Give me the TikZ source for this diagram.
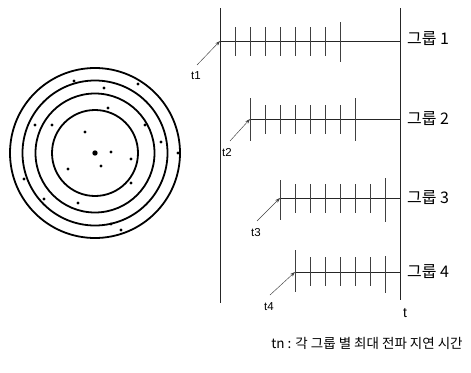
\documentclass[tikz,border=0pt]{standalone}
\usepackage{fontspec}
\setmainfont{Liberation Sans}
\newfontfamily\kor{Noto Sans CJK KR}
\usetikzlibrary{arrows.meta}

\tikzset{
  ring/.style={line width=1.8pt},
  tline/.style={line width=0.6pt, black!85},
  pulse/.style={line width=0.6pt, black!75},
  lag/.style={line width=0.45pt, black!75, -{Stealth[length=5pt, width=3.5pt]}},
  tlabel/.style={font=\fontsize{11.5}{11.5}\selectfont, inner sep=0pt},
  glabel/.style={font=\kor\fontsize{16}{16}\selectfont, anchor=west, inner sep=0pt},
}

\begin{document}
\begin{tikzpicture}[x=1pt, y=-1pt]
  \useasboundingbox (0,0) rectangle (471,372);
  % rings with nodes
  \coordinate (c) at (95,153);
  \foreach \r in {43,59.5,72.5,85} \draw[ring] (c) circle (\r pt);
  \fill (c) circle (2.7pt);
  \foreach \x/\y in {111/152, 101/166, 68/169, 85/132, 131/159, 131/183,
      108/108, 52/125, 35/125, 145/125, 161/142, 178/153, 104/88, 74/81,
      138/84, 24/179, 44/199, 78/203, 111/224, 121/230}
    \fill (\x,\y) circle (1.7pt);

  % time axes
  \coordinate (a0) at (220,8);
  \coordinate (a1) at (220,303);
  \coordinate (b0) at (400,8);
  \coordinate (b1) at (400,300);
  \draw[tline] (a0) -- (a1);
  \draw[tline] (b0) -- (b1);
  \node[font=\fontsize{14}{14}\selectfont, inner sep=0pt] (t) at (405,313) {t};

  % group 1
  \coordinate (s1) at (220,41);
  \coordinate (e1) at (400,41);
  \draw[tline] (s1) -- (e1);
  \foreach \x in {235,250,...,325} \draw[pulse] (\x,27) -- (\x,56);
  \draw[pulse] (340,22) -- (340,62);
  \node[tlabel] (t1) at (196,76) {t1};
  \coordinate (p1) at (197,65);
  \draw[lag] (p1) -- (s1);
  \node[glabel] (g1) at (407,39) {그룹 1};

  % group 2
  \coordinate (s2) at (250,119);
  \coordinate (e2) at (400,119);
  \draw[tline] (s2) -- (e2);
  \draw[pulse] (250,98) -- (250,141);
  \foreach \x in {265,280,...,340} \draw[pulse] (\x,105) -- (\x,134);
  \draw[pulse] (355,98) -- (355,141);
  \node[tlabel] (t2) at (227,153) {t2};
  \coordinate (p2) at (230,141);
  \draw[lag] (p2) -- (s2);
  \node[glabel] (g2) at (407,119) {그룹 2};

  % group 3
  \coordinate (s3) at (280,198);
  \coordinate (e3) at (400,198);
  \draw[tline] (s3) -- (e3);
  \draw[pulse] (280,180) -- (280,220);
  \foreach \x in {295,310,...,370} \draw[pulse] (\x,184) -- (\x,213);
  \draw[pulse] (385,178) -- (385,222);
  \node[tlabel] (t3) at (256,233) {t3};
  \coordinate (p3) at (257,221);
  \draw[lag] (p3) -- (s3);
  \node[glabel] (g3) at (407,198) {그룹 3};

  % group 4
  \coordinate (s4) at (295,272);
  \coordinate (e4) at (400,272);
  \draw[tline] (s4) -- (e4);
  \draw[pulse] (295,250) -- (295,292);
  \foreach \x in {310,325,...,370} \draw[pulse] (\x,257) -- (\x,286);
  \draw[pulse] (385,256) -- (385,293);
  \node[tlabel] (t4) at (269,307) {t4};
  \coordinate (p4) at (270,295);
  \draw[lag] (p4) -- (s4);
  \node[glabel] (g4) at (407,272) {그룹 4};

  % legend
  \node[font=\kor\fontsize{13.5}{13.5}\selectfont, inner sep=0pt] (note) at (367,343)
    {tn : 각 그룹 별 최대 전파 지연 시간};
\end{tikzpicture}
\end{document}
